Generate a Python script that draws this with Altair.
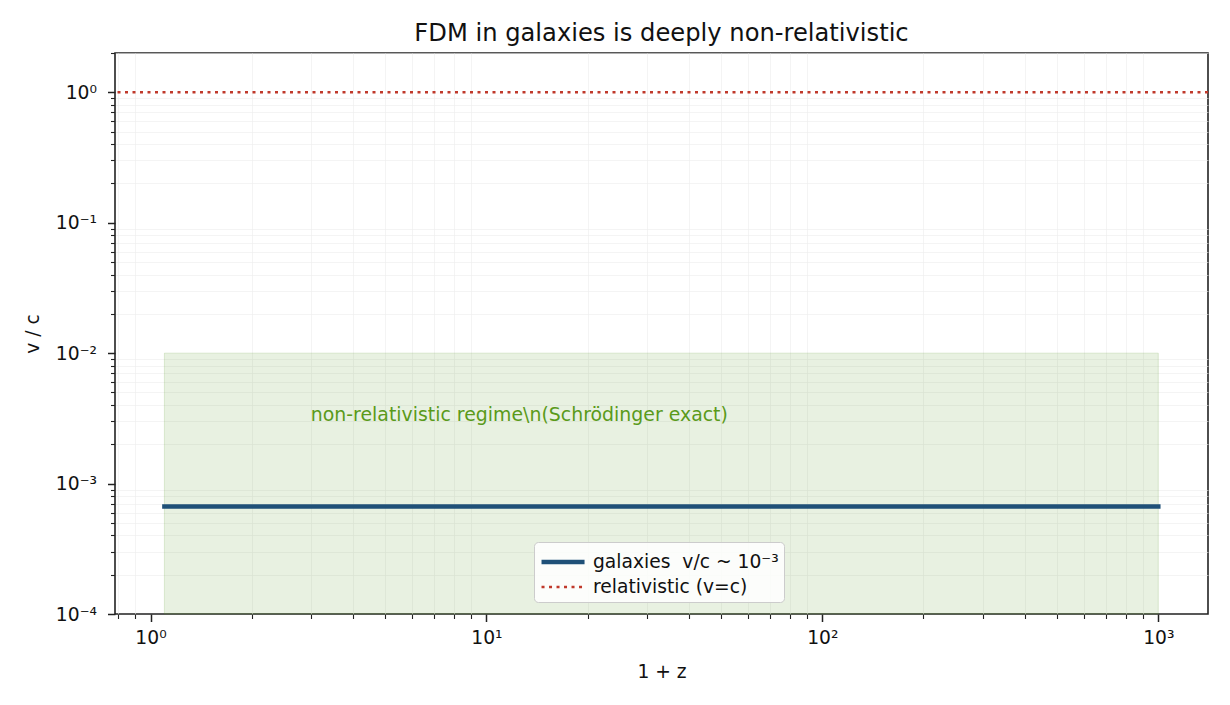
import altair as alt
import pandas as pd

# ---- data ----
x_range = [1.1, 1000.0]
galaxy_vc = [6.67e-4, 6.67e-4]
rel_vc = [1.0]
band_x = [1.1, 1000.0]
band_y = [1e-4, 1e-2]
note_x = [3.0]
note_y = [3e-3]
note_text = ["non-relativistic regime\\n(Schrödinger exact)"]
series_names = ["galaxies\u00a0 v/c ~ 10⁻³", "relativistic (v=c)"]
series_colors = ["#1f5078", "#c0392b"]

x_major = [1, 10, 100, 1000]
x_minor = [0.8, 0.9, 2, 3, 4, 5, 6, 7, 8, 9,
           20, 30, 40, 50, 60, 70, 80, 90,
           200, 300, 400, 500, 600, 700, 800, 900]
y_major = [1e-4, 1e-3, 1e-2, 1e-1, 1]
y_minor = [2e-4, 3e-4, 4e-4, 5e-4, 6e-4, 7e-4, 8e-4, 9e-4,
           2e-3, 3e-3, 4e-3, 5e-3, 6e-3, 7e-3, 8e-3, 9e-3,
           2e-2, 3e-2, 4e-2, 5e-2, 6e-2, 7e-2, 8e-2, 9e-2,
           0.2, 0.3, 0.4, 0.5, 0.6, 0.7, 0.8, 0.9, 2.0]
x_domain = [0.784, 1406]
y_domain = [1e-4, 2.0]

band_df = pd.DataFrame({"x0": [band_x[0]], "x1": [band_x[1]], "y0": [band_y[0]], "y1": [band_y[1]]})
gal_df = pd.DataFrame({"x": x_range, "y": galaxy_vc, "series": [series_names[0]] * 2})
rel_df = pd.DataFrame({"y": rel_vc, "series": [series_names[1]]})
note_df = pd.DataFrame({"x": note_x, "y": note_y, "label": note_text})

FONT = "DejaVu Sans"
FS = 18.7
xs = alt.Scale(type="log", domain=x_domain, nice=False)
ys = alt.Scale(type="log", domain=y_domain, nice=False)

sup = ("'10' + (round(log(datum.value)/LN10) < 0 ? '⁻' : '') + "
       "substring('⁰¹²³⁴⁵⁶⁷⁸⁹', abs(round(log(datum.value)/LN10)), abs(round(log(datum.value)/LN10)) + 1)")

common = dict(labelFont=FONT, titleFont=FONT, labelFontSize=FS, titleFontSize=FS,
              labelColor="#111", titleColor="#111", titleFontWeight="normal",
              tickColor="#222", domain=False)
major_x = alt.Axis(orient="bottom", values=x_major, labelExpr=sup, tickSize=7.5, tickWidth=1.5,
                   gridColor="#e2e2e2", gridWidth=0.8, labelPadding=7, title="1 + z",
                   titlePadding=15, labelFlush=False, **common)
major_y = alt.Axis(orient="left", values=y_major, labelExpr=sup, tickSize=7.5, tickWidth=1.5,
                   gridColor="#e2e2e2", gridWidth=0.8, labelPadding=11, title="v / c",
                   titlePadding=13, labelFlush=False, **common)
minor_x = alt.Axis(orient="bottom", values=x_minor, labels=False, tickSize=4.5, tickWidth=1.1,
                   gridColor="#ececec", gridWidth=0.6, title=None, **common)
minor_y = alt.Axis(orient="left", values=y_minor, labels=False, tickSize=4.5, tickWidth=1.1,
                   gridColor="#ececec", gridWidth=0.6, title=None, **common)

color_scale = alt.Scale(domain=series_names, range=series_colors)
dash_scale = alt.Scale(domain=series_names, range=[[1, 0], [3, 4.5]])
sw_scale = alt.Scale(domain=series_names, range=[4.5, 2.6])
legend = alt.Legend(title=None, orient="none", legendX=419, legendY=489,
                    symbolType="M-0.96,0L2.35,0", symbolSize=676, labelFontSize=FS, labelFont=FONT,
                    labelColor="#111", labelLimit=400,
                    fillColor="rgba(255,255,255,0.85)", strokeColor="#cccccc",
                    cornerRadius=4, padding=4.5, rowPadding=0, labelOffset=23.5)

band = alt.Chart(band_df).mark_rect(fill="#5f9a2a", fillOpacity=0.14, stroke="#5f9a2a",
                                    strokeOpacity=0.18, strokeWidth=1).encode(
    x=alt.X("x0:Q", scale=xs, axis=minor_x),
    x2="x1:Q",
    y=alt.Y("y0:Q", scale=ys, axis=minor_y),
    y2="y1:Q",
)

line = alt.Chart(gal_df).mark_line(strokeCap="square").encode(
    x=alt.X("x:Q", scale=xs, axis=major_x),
    y=alt.Y("y:Q", scale=ys, axis=major_y),
    color=alt.Color("series:N", scale=color_scale, legend=legend),
    strokeDash=alt.StrokeDash("series:N", scale=dash_scale, legend=legend),
    strokeWidth=alt.StrokeWidth("series:N", scale=sw_scale, legend=legend),
)

rule = alt.Chart(rel_df).mark_rule().encode(
    y=alt.Y("y:Q", scale=ys, axis=None),
    color=alt.Color("series:N", scale=color_scale, legend=legend),
    strokeDash=alt.StrokeDash("series:N", scale=dash_scale, legend=legend),
    strokeWidth=alt.StrokeWidth("series:N", scale=sw_scale, legend=legend),
)

note = alt.Chart(note_df).mark_text(align="left", baseline="alphabetic", fontSize=18.9,
                                    color="#5a9a1a", font=FONT).encode(
    x=alt.X("x:Q", scale=xs, axis=None),
    y=alt.Y("y:Q", scale=ys, axis=None),
    text="label:N",
)

chart = alt.layer(band, line, rule, note).resolve_axis(
    x="independent", y="independent"
).properties(
    width=1093, height=561,
    background="white",
    title=alt.TitleParams("FDM in galaxies is deeply non-relativistic", fontSize=24.2,
                          fontWeight="normal", font=FONT, color="#111", anchor="middle",
                          frame="group", baseline="alphabetic", offset=-12.5),
    autosize=alt.AutoSizeParams(type="none"),
    padding={"left": 107, "top": 45, "right": 14, "bottom": 75},
).configure_view(stroke="#222", strokeWidth=1.6)

chart.save("out.html", embed_options={"renderer": "svg", "actions": False})
